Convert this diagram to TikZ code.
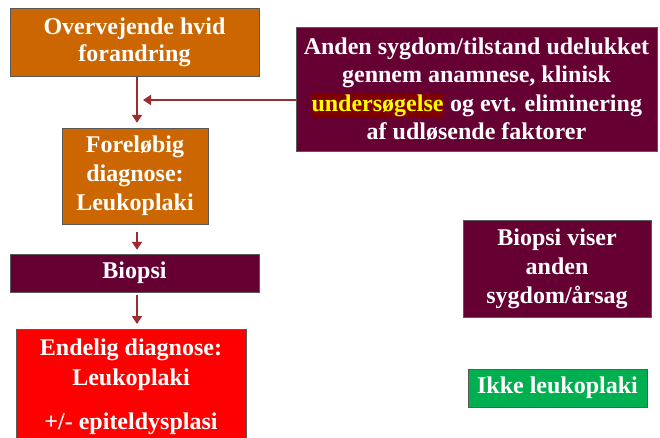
\documentclass[tikz,border=0pt]{standalone}
\usepackage{fontspec}
\setmainfont{Liberation Serif}
\usetikzlibrary{arrows.meta}
\definecolor{orng}{HTML}{CC6600}
\definecolor{plum}{HTML}{660033}
\definecolor{redbox}{HTML}{FF0000}
\definecolor{grn}{HTML}{00B050}
\definecolor{arr}{HTML}{9B2D30}
\definecolor{hlbg}{HTML}{800000}
\definecolor{hlfg}{HTML}{FFFF00}
\tikzset{
  box/.style={draw=gray!70!black, line width=0.5pt, inner sep=0pt, text=white,
    font=\bfseries\fontsize{24}{27}\selectfont, align=center},
  flow/.style={draw=arr, line width=2.8pt, -{Triangle[width=10pt,length=8pt]}},
}
\begin{document}
\begin{tikzpicture}[x=1pt,y=-1pt]
\useasboundingbox (0,0) rectangle (660,437);
\fill[white] (0,0) rectangle (660,437);
% boxes
\node[box, fill=orng, minimum width=249pt, minimum height=68pt] (a) at (134.5,42) {Overvejende hvid\\forandring};
\node[box, fill=plum, minimum width=361pt, minimum height=124pt, font=\bfseries\fontsize{24}{28.5}\selectfont] (b) at (476.5,89)
  {Anden sygdom/tilstand udelukket\\gennem anamnese, klinisk\\{\setlength{\fboxsep}{0.5pt}\colorbox{hlbg}{\color{hlfg}undersøgelse}} og evt. eliminering\\af udløsende faktorer};
\node[box, fill=orng, minimum width=146pt, minimum height=96pt, font=\bfseries\fontsize{24}{29}\selectfont] (c) at (135,176) {Foreløbig\\diagnose:\\Leukoplaki};
\node[box, fill=plum, minimum width=249pt, minimum height=38pt] (d) at (134.5,273) {Biopsi};
\node[box, fill=redbox, minimum width=230pt, minimum height=120pt, anchor=north] (e) at (131,329) {};
\node[text=white, font=\bfseries\fontsize{24}{30}\selectfont, align=center, anchor=north] (et) at (131,335) {Endelig diagnose:\\Leukoplaki\\[14pt]+/- epiteldysplasi};
\node[box, fill=plum, minimum width=188pt, minimum height=97pt, font=\bfseries\fontsize{24}{29}\selectfont] (f) at (557,268.5) {Biopsi viser\\anden\\sygdom/årsag};
\node[box, fill=grn, minimum width=179pt, minimum height=38pt] (g) at (557.5,388) {Ikke leukoplaki};
% connectors
\coordinate (m) at (137,100);
\draw[flow, shorten <=1pt, shorten >=5pt] (a.south -| m) -- (c.north -| m);
\draw[flow, shorten >=6pt] (b.west |- m) -- (m);
\draw[flow, shorten <=8pt, shorten >=4pt] (c.south -| m) -- (d.north -| m);
\draw[flow, shorten <=3pt, shorten >=5pt] (d.south -| m) -- (e.north -| m);
\end{tikzpicture}
\end{document}
